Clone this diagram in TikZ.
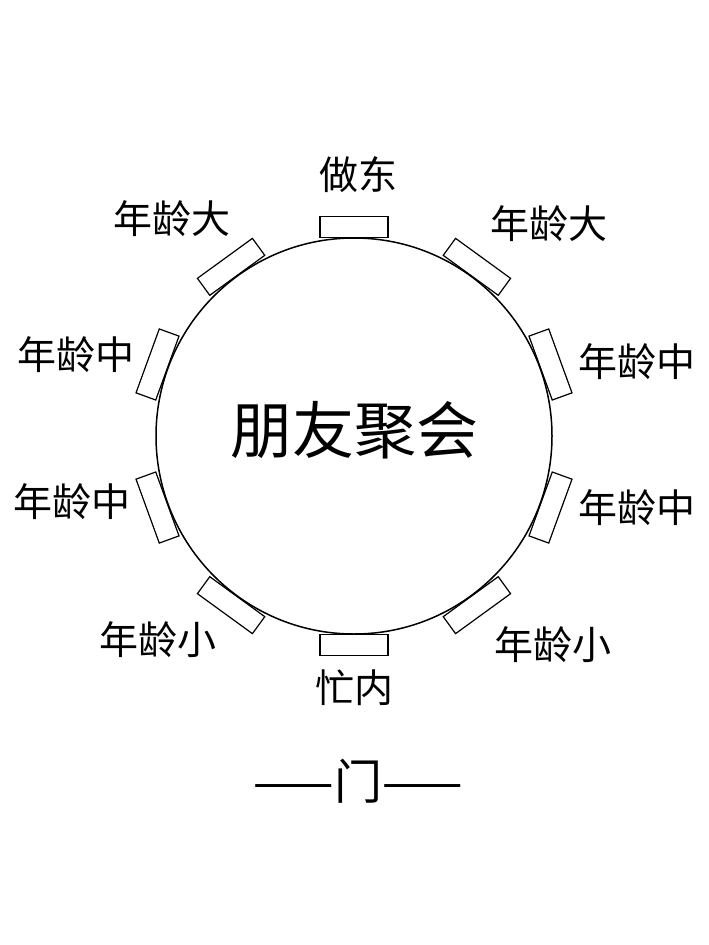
\documentclass[tikz,border=0pt]{standalone}
\usepackage{fontspec}
\usetikzlibrary{calc}
\newfontfamily\cjk{Noto Sans CJK SC}
\begin{document}
\begin{tikzpicture}[x=1pt,y=-1pt,
  chair/.style={draw,line width=1.2pt,minimum width=68pt,minimum height=21pt,inner sep=0pt,anchor=south},
  lbl/.style={font=\cjk\fontsize{39}{39}\selectfont,inner sep=0pt},
  table/.style={draw,line width=1.5pt,circle,minimum size=396pt,inner sep=0pt}]
\useasboundingbox (0,0) rectangle (709,945);
\node[table] (t) at (354,436) {};
\node[lbl,font=\cjk\fontsize{62}{62}\selectfont] (title) at (354,430) {朋友聚会};
\foreach \a/\n in {90/c1,54/c2,20/c3,-20/c4,-54/c5,-90/c6,126/c7,160/c8,200/c9,234/c10}{
  \node[chair,rotate=\a-90] (\n) at ($(354,436)+({198*cos(\a)},{-198*sin(\a)})$) {};
}
\node[lbl] (l1) at (358,175) {做东};
\node[lbl] (l2) at (172,219) {年龄大};
\node[lbl] (l3) at (549,224) {年龄大};
\node[lbl] (l4) at (76,355) {年龄中};
\node[lbl] (l5) at (637,362) {年龄中};
\node[lbl] (l6) at (72,502) {年龄中};
\node[lbl] (l7) at (637,508) {年龄中};
\node[lbl] (l8) at (158,640) {年龄小};
\node[lbl] (l9) at (553,645) {年龄小};
\node[lbl] (l10) at (354,688) {忙内};
\node[lbl,font=\cjk\fontsize{48}{48}\selectfont] (door) at (358,781) {——门——};
\end{tikzpicture}
\end{document}
